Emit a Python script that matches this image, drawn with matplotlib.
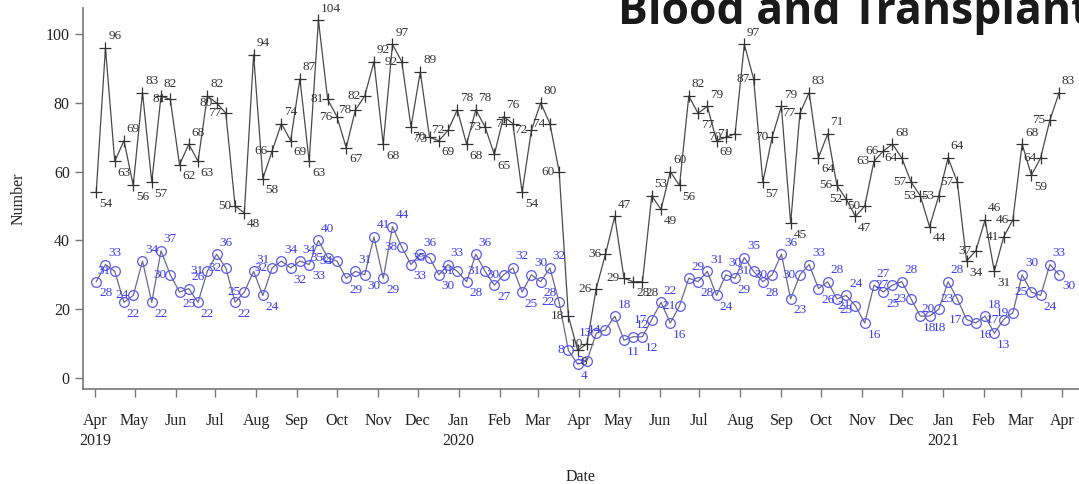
import matplotlib
matplotlib.use('Agg')
import matplotlib.pyplot as plt
import matplotlib.dates as mdates
import pandas as pd


# weekly counts, first week starting early April 2019
first_week = '2019-04-02'

black_counts = [
    54, 96, 63, 69, 56, 83, 57, 82, 81, 62, 68, 63, 82, 80, 77, 50, 48, 94,
    58, 66, 74, 69, 87, 63, 104, 81, 76, 67, 78, 82, 92, 68, 97, 92, 73, 89,
    70, 69, 72, 78, 68, 78, 73, 65, 76, 74, 54, 72, 80, 74, 60, 18, 8, 10,
    26, 36, 47, 29, 28, 28, 53, 49, 60, 56, 82, 77, 79, 69, 70, 71, 97, 87,
    57, 70, 79, 45, 77, 83, 64, 71, 56, 52, 47, 50, 63, 66, 68, 64, 57, 53,
    44, 53, 64, 57, 34, 37, 46, 31, 41, 46, 68, 59, 64, 75, 83
]

blue_counts = [
    28, 33, 31, 22, 24, 34, 22, 37, 30, 25, 26, 22, 31, 36, 32, 22, 25, 31,
    24, 32, 34, 32, 34, 33, 40, 35, 34, 29, 31, 30, 41, 29, 44, 38, 33, 36,
    35, 30, 33, 31, 28, 36, 31, 27, 30, 32, 25, 30, 28, 32, 22, 8, 4, 5,
    13, 14, 18, 11, 12, 12, 17, 22, 16, 21, 29, 28, 31, 24, 30, 29, 35, 31,
    28, 30, 36, 23, 30, 33, 26, 28, 23, 24, 21, 16, 27, 25, 27, 28, 23, 18,
    18, 20, 28, 23, 17, 16, 18, 13, 17, 19, 30, 25, 24, 33, 30
]

y_ticks = [0, 20, 40, 60, 80, 100]
title_text = 'Blood and Transplant'

weeks = pd.date_range(first_week, periods=len(black_counts), freq='7D')

plt.rcParams['font.family'] = ['Liberation Serif', 'DejaVu Serif']

fig = plt.figure(figsize=(10.79, 4.84), dpi=100)
ax = fig.add_axes([0.0769, 0.1963, 0.9231, 0.7872])

ax.plot(weeks, black_counts, color='#4a4a4a', lw=0.9,
        marker='+', ms=8, mew=0.9, mec='#333333')
ax.plot(weeks, blue_counts, color='#6a6a8a', lw=0.9,
        marker='o', ms=7, mfc='none', mec='#5a5af0', mew=0.9)


def place_labels(values, color):
    n = len(values)
    for i, v in enumerate(values):
        prev = values[i - 1] if i > 0 else v
        nxt = values[i + 1] if i < n - 1 else v
        if v >= prev and v >= nxt:
            off, ha, va = (2, 4), 'left', 'bottom'
        elif v <= prev and v <= nxt:
            off, ha, va = (2, -4), 'left', 'top'
        else:
            off, ha, va = (-3, 0), 'right', 'center'
        ax.annotate(str(v), (weeks[i], v), xytext=off,
                    textcoords='offset points', ha=ha, va=va,
                    fontsize=9.5, color=color)


place_labels(black_counts, '#333333')
place_labels(blue_counts, '#3c3cf0')

ax.set_xlim(pd.Timestamp('2019-03-23'), pd.Timestamp('2021-04-14'))
ax.set_ylim(-3.2, 107.6)
ax.set_yticks(y_ticks)


def month_label(x, pos):
    d = mdates.num2date(x)
    s = d.strftime('%b')
    if d.month == 1 or (d.year == 2019 and d.month == 4):
        s += '\n' + str(d.year)
    return s


ax.xaxis.set_major_locator(mdates.MonthLocator())
ax.xaxis.set_major_formatter(plt.FuncFormatter(month_label))

for side in ['top', 'right']:
    ax.spines[side].set_visible(False)
for side in ['left', 'bottom']:
    ax.spines[side].set_color('#777777')
    ax.spines[side].set_linewidth(1.2)

ax.tick_params(axis='both', colors='#777777', labelcolor='#222222',
               labelsize=11.5, length=6, width=1)
ax.tick_params(axis='x', pad=11)
for t in ax.get_xticklabels():
    t.set_linespacing(1.4)

ax.set_ylabel('Number', fontsize=11.5, color='#222222', labelpad=14)
ax.set_xlabel('Date', fontsize=11.5, color='#222222', labelpad=14)

fig.text(618 / 1079, 1 - 24 / 484, title_text, family='Open Sans',
         weight='bold', fontsize=32, color='#1a1a1a', va='baseline')

fig.savefig('out.png', dpi=100)
